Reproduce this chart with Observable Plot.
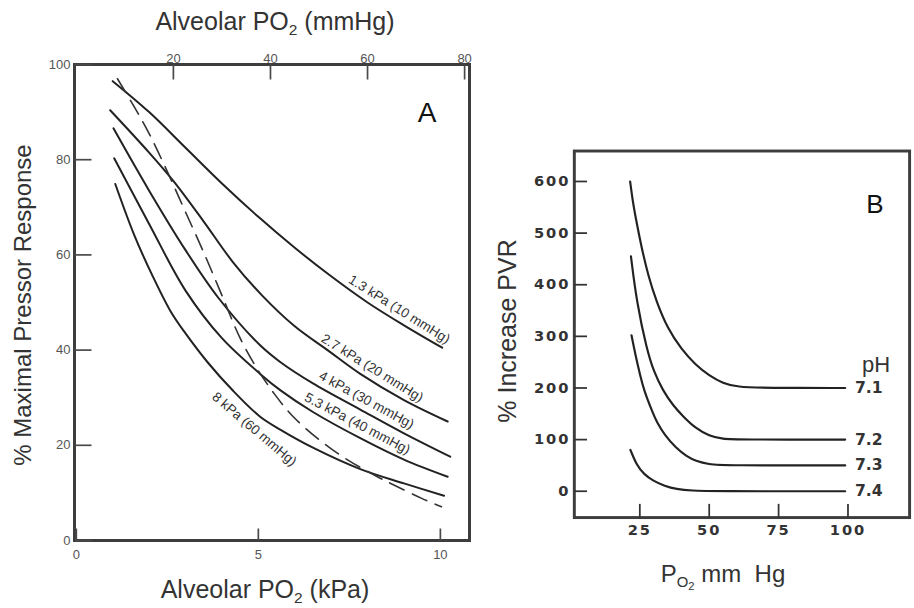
<!DOCTYPE html>
<html><head><meta charset="utf-8">
<script src="https://cdn.jsdelivr.net/npm/d3@7"></script>
<script src="https://cdn.jsdelivr.net/npm/@observablehq/plot@0.6"></script>
<style>
html,body{margin:0;padding:0;background:#fff;overflow:hidden;}
#wrap{position:relative;width:914px;height:608px;overflow:hidden;font-family:"Liberation Sans",Arial,sans-serif;color:#333;}
.abs{position:absolute;white-space:nowrap;}
#panelA{position:absolute;left:0;top:0;}
#panelB{position:absolute;left:480px;top:0;}
.sub{font-size:0.62em;position:relative;top:0.32em;}
.sub2{font-size:0.75em;position:relative;top:0.3em;}
</style></head><body>
<div id="wrap">
  <div id="panelA"></div>
  <div id="panelB"></div>
  <div class="abs" style="left:275px;top:9px;font-size:25px;line-height:25px;transform:translateX(-50%);">Alveolar PO<span class="sub">2</span> (mmHg)</div>
  <div class="abs" style="left:265px;top:577px;font-size:25px;line-height:25px;transform:translateX(-50%);">Alveolar PO<span class="sub">2</span> (kPa)</div>
  <div class="abs" style="left:23px;top:305px;font-size:24px;line-height:24px;transform:translate(-50%,-50%) rotate(-90deg);">% Maximal Pressor Response</div>
  <div class="abs" style="left:507px;top:331px;font-size:25px;line-height:25px;transform:translate(-50%,-50%) rotate(-90deg);">% Increase PVR</div>
  <div class="abs" style="left:723px;top:562px;font-size:24px;line-height:24px;transform:translateX(-50%);">P<span class="sub">O<span class="sub2">2</span></span> mm&nbsp; Hg</div>
  <div class="abs" style="left:427px;top:99px;font-size:28px;line-height:28px;transform:translateX(-50%);color:#111;">A</div>
  <div class="abs" style="left:875px;top:191px;font-size:26px;line-height:26px;transform:translateX(-50%);color:#111;">B</div>
  <div class="abs" style="left:862px;top:354px;font-size:22px;line-height:22px;color:#333;">pH</div>
</div>
<script>
// ---------- Panel A data (x: alveolar PO2 in kPa, y: % maximal pressor response)
const kpaTicks = [0, 5, 10];
const mmHgTicks = [20, 40, 60, 80];
const pctTicks = [0, 20, 40, 60, 80, 100];
const aSeries = ["1.3 kPa (10 mmHg)", "2.7 kPa (20 mmHg)", "4 kPa (30 mmHg)", "5.3 kPa (40 mmHg)", "8 kPa (60 mmHg)"];
const a13 = [[1.0,96.5],[2.0,90],[3.0,82.5],[4.0,75],[5.0,68],[6.0,61.5],[7.0,55.5],[8.0,50],[9.0,45.2],[10.05,40.5]];
const a27 = [[0.93,90.4],[2.0,81.5],[2.67,75.5],[3.5,67],[4.3,58.5],[5.1,51.5],[6.0,45],[6.9,40],[7.8,35],[9.0,29.5],[10.2,25]];
const a40 = [[1.02,86.6],[2.0,73.5],[3.0,61],[3.9,51],[5.05,41],[5.6,37.5],[6.5,33],[7.8,27.5],[9.0,22.5],[10.27,17.6]];
const a53 = [[1.04,80.3],[2.0,66.5],[3.0,52.5],[4.0,42.5],[5.05,35],[5.6,31.6],[6.5,27],[7.8,21.5],[9.0,17],[10.2,13.4]];
const a80 = [[1.07,74.9],[1.6,64],[2.1,55.5],[2.6,48],[3.0,43.5],[3.6,37.5],[4.3,31.5],[5.05,26],[5.6,23.3],[6.5,19.5],[7.8,15],[9.0,12],[10.1,9.4]];
const aDashed = [[1.13,97],[1.6,91],[2.0,85.5],[2.5,77.5],[3.0,69],[3.5,60.5],[4.0,51.5],[4.5,42.5],[4.95,36.3],[5.45,30.7],[5.96,26],[6.7,21],[7.44,17],[8.27,13.4],[8.82,11.3],[9.5,8.8],[10.03,7.1]];
const aCurves = [a13, a27, a40, a53, a80];
const aLabelSpan = [[7.5,10.05],[6.9,9.6],[6.6,9.3],[6.2,9.26],[3.63,6.15]];
const aLabelCenter = [8.87, 8.13, 7.97, 7.72, 4.89];
const aLabelBelow = [false, false, false, false, true];

// ---------- Panel B data (x: PO2 mm Hg, y: % increase PVR)
const bXTicks = [25, 50, 75, 100];
const bYTicks = [0, 100, 200, 300, 400, 500, 600];
const bSeries = ["7.1", "7.2", "7.3", "7.4"];
const b71 = [[21.5,600],[22.5,560],[23.5,530],[25.5,475],[28,418],[31,367],[35,315],[40,275],[45,245],[50,224],[55,209],[60,202],[70,200],[99,200]];
const b72 = [[21.8,455],[23.9,365],[27.5,275],[30,232],[33.3,195],[37,166],[40.4,146],[45,122],[50,107],[55,101],[60,100],[99,100]];
const b73 = [[22,302],[23.5,262],[25.1,225],[26.5,195],[29.8,150],[31,135],[34,108],[38,84],[42,67],[45,59],[50,52],[55,50],[99,50]];
const b74 = [[21.6,80],[23.9,50],[26.5,33],[29.8,20],[34,10],[38,4],[44,1],[50,0],[99,0]];
const bCurves = [b71, b72, b73, b74];

// ---------- helpers
function interp(pts, x) {
  if (x <= pts[0][0]) return pts[0][1];
  for (let i = 1; i < pts.length; i++) {
    if (x <= pts[i][0]) {
      const [x0, y0] = pts[i-1], [x1, y1] = pts[i];
      return y0 + (y1 - y0) * (x - x0) / (x1 - x0);
    }
  }
  return pts[pts.length-1][1];
}

// ---------- Panel A
const A = {width: 480, height: 608, ml: 74, mr: 11, mt: 64, mb: 68, xd: [-0.05, 10.8], yd: [0, 100]};
const wA = A.width - A.ml - A.mr, hA = A.height - A.mt - A.mb;
const kxA = wA / (A.xd[1] - A.xd[0]);
const kyA = hA / (A.yd[1] - A.yd[0]);
const aRows = aCurves.flatMap((c, i) => c.map(([x, y]) => ({series: aSeries[i], x, y})));
const dashRows = aDashed.map(([x, y]) => ({x, y}));
const aLabels = aSeries.map((s, i) => {
  const [f, t] = aLabelSpan[i];
  const ang = Math.atan2((interp(aCurves[i], f) - interp(aCurves[i], t)) * kyA, (t - f) * kxA) * 180 / Math.PI;
  const cx = aLabelCenter[i];
  return {text: s, x: cx, y: interp(aCurves[i], cx), rotate: ang, below: aLabelBelow[i]};
});
const mmTicksKpa = mmHgTicks.map(m => m / 7.50062);
// inward tick segments, lengths converted from px to data units
const tBotA = 12 / kyA, tTopA = 15 / kyA, tLeftA = 17 / kxA;
const aTickSegs = [
  ...kpaTicks.map(v => ({x1: v, x2: v, y1: A.yd[0], y2: A.yd[0] + tBotA})),
  ...mmTicksKpa.map(v => ({x1: v, x2: v, y1: A.yd[1], y2: A.yd[1] - tTopA})),
  ...pctTicks.map(v => ({x1: A.xd[0], x2: A.xd[0] + tLeftA, y1: v, y2: v}))
];

const fontA = "Liberation Sans, Arial, sans-serif";
const plotA = Plot.plot({
  width: A.width, height: A.height,
  marginLeft: A.ml, marginRight: A.mr, marginTop: A.mt, marginBottom: A.mb,
  x: {domain: A.xd},
  y: {domain: A.yd},
  style: {fontFamily: fontA, background: "transparent", overflow: "visible"},
  marks: [
    Plot.axisX(kpaTicks, {anchor: "bottom", tickSize: 0, tickPadding: 9, label: null, fontSize: 13, fill: "#555"}),
    Plot.axisX(mmTicksKpa, {anchor: "top", tickSize: 0, tickPadding: 2, label: null, fontSize: 13, fill: "#555", tickFormat: d => String(Math.round(d * 7.50062))}),
    Plot.axisY(pctTicks, {anchor: "left", tickSize: 0, tickPadding: 4, label: null, fontSize: 13, fill: "#555"}),
    Plot.line(aRows, {x: "x", y: "y", z: "series", curve: "catmull-rom", stroke: "#222", strokeWidth: 2}),
    Plot.line(dashRows, {x: "x", y: "y", curve: "catmull-rom", stroke: "#333", strokeWidth: 1.6, strokeDasharray: "16,9"}),
    Plot.text(aLabels.filter(d => !d.below), {x: "x", y: "y", text: "text", rotate: "rotate", dy: -13, fontSize: 13.5, fill: "#333"}),
    Plot.text(aLabels.filter(d => d.below), {x: "x", y: "y", text: "text", rotate: "rotate", dy: 18, fontSize: 13.5, fill: "#333"}),
    Plot.frame({stroke: "#3d3d3d", strokeWidth: 3}),
    Plot.link(aTickSegs, {x1: "x1", x2: "x2", y1: "y1", y2: "y2", stroke: "#4a4a4a", strokeWidth: 1.7})
  ]
});
document.getElementById("panelA").appendChild(plotA);

// ---------- Panel B
const B = {width: 444, height: 608, ml: 96, mr: 5, mt: 154, mb: 79, xd: [1.4, 122.2], yd: [-51, 659]};
const wB = B.width - B.ml - B.mr, hB = B.height - B.mt - B.mb;
const kxB = wB / (B.xd[1] - B.xd[0]);
const kyB = hB / (B.yd[1] - B.yd[0]);
const tBotB = 14 / kyB, tLeftB = 13 / kxB;
const bTickSegs = [
  ...bXTicks.map(v => ({x1: v, x2: v, y1: B.yd[0], y2: B.yd[0] + tBotB})),
  ...bYTicks.map(v => ({x1: B.xd[0], x2: B.xd[0] + tLeftB, y1: v, y2: v}))
];
const bRows = bCurves.flatMap((c, i) => c.map(([x, y]) => ({series: bSeries[i], x, y})));
const bEnds = bCurves.map((c, i) => ({series: bSeries[i], x: c[c.length-1][0], y: c[c.length-1][1]}));
const fontB = "DejaVu Sans, Verdana, sans-serif";
const plotB = Plot.plot({
  width: B.width, height: B.height,
  marginLeft: B.ml, marginRight: B.mr, marginTop: B.mt, marginBottom: B.mb,
  x: {domain: B.xd},
  y: {domain: B.yd},
  style: {fontFamily: fontB, background: "transparent", overflow: "visible"},
  marks: [
    Plot.axisX(bXTicks, {anchor: "bottom", tickSize: 0, tickPadding: 7, label: null, fontSize: 15, fontWeight: "bold", fill: "#333"}),
    Plot.axisY(bYTicks, {anchor: "left", tickSize: 0, tickPadding: 4, label: null, fontSize: 15, fontWeight: "bold", fill: "#333"}),
    Plot.line(bRows, {x: "x", y: "y", z: "series", curve: "basis", stroke: "#222", strokeWidth: 2.2}),
    Plot.text(bEnds, {x: "x", y: "y", text: "series", dx: 10, textAnchor: "start", fontSize: 16, fontWeight: "bold", fill: "#333"}),
    Plot.frame({stroke: "#3d3d3d", strokeWidth: 3}),
    Plot.link(bTickSegs, {x1: "x1", x2: "x2", y1: "y1", y2: "y2", stroke: "#333", strokeWidth: 1.8})
  ]
});
d3.select(plotB).selectAll("g[aria-label='x-axis tick label'] text, g[aria-label='y-axis tick label'] text")
  .style("letter-spacing", "2px");
document.getElementById("panelB").appendChild(plotB);
</script>
</body></html>
